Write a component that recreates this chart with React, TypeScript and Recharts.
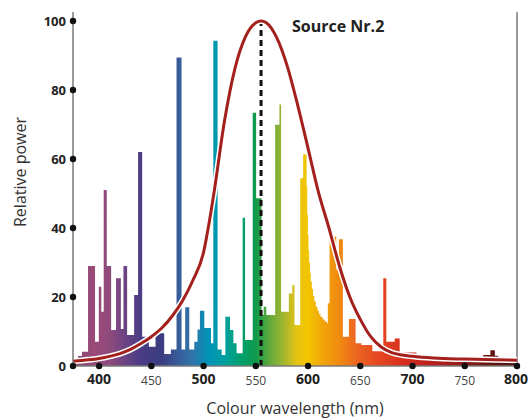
import React from "react"
import {
  ComposedChart, Area, Line, Scatter, XAxis, YAxis, ReferenceLine,
} from "recharts"

// spectrum steps: start wavelength (nm) and relative power of each step
const specStart = [
  375, 379.8, 383.6, 389.4, 396.1, 399.7, 402.1, 404.4, 407.3, 411.5,
  416.2, 420.8, 423.3, 426.8, 433.5, 437.3, 441.2, 447.6, 454, 462.3,
  468.7, 474.1, 478.9, 482.4, 486.3, 491.1, 494.2, 496.5, 500.7, 507.1,
  509.3, 513.4, 517.3, 520.8, 525.3, 528.5, 531.6, 537.4, 539.7, 547,
  550.3, 555.5, 557.5, 560, 568.5, 572.6, 574.2, 581.6, 584.9, 587,
  592.5, 595.3, 598.6, 599.2, 599.8, 600.4, 601, 601.8, 602.6, 603.6,
  604.8, 606, 607.5, 609, 610.5, 612, 614, 616, 618, 618.9,
  620.6, 627, 629.5, 633.3, 639.1, 645.5, 651, 661.5, 672, 674.9,
  682.9, 687.7, 703.7, 722.9, 740.5, 754.2, 762.8, 767.6, 774.5, 778.8,
  782, 800,
]
const specPower = [
  1.7, 2.9, 4.1, 29, 7, 23, 15.7, 51, 29, 10.4,
  25.4, 10.7, 29, 9, 20.6, 62, 8.5, 5.6, 9.5, 3.5,
  4.8, 89.4, 4.8, 17, 4.8, 7, 10.6, 16, 11, 6.6,
  94.3, 4.8, 3.2, 14.3, 10.4, 6.6, 3.7, 43, 7.5, 73.4,
  48.6, 14.8, 17.2, 14.8, 69.9, 75.8, 15.7, 21, 23.5, 11.9,
  54.4, 61.4, 52, 44, 38, 33.5, 30, 27, 24.5, 22.3,
  20.3, 18.7, 17.2, 16, 15, 14.2, 13.5, 12.9, 12.4, 18.2,
  37.5, 28, 36.7, 8.5, 13.6, 6.6, 6.1, 4.3, 25.4, 7,
  8, 3.9, 2.5, 2.4, 1.9, 2.4, 1.9, 3.2, 4.6, 3,
  2.2, 2.2,
]

// eye sensitivity curve
const curveNm = [
  375, 390, 400, 410, 420, 430, 440, 450, 460, 470, 480, 490, 500, 505,
  510, 520, 530, 540, 550, 555, 560, 570, 580, 590, 600, 610, 620, 630,
  640, 650, 660, 670, 680, 690, 700, 720, 750, 780, 800,
]
const curvePower = [
  1.4, 1.8, 2.2, 2.8, 3.6, 4.8, 6.5, 8.5, 11, 14.5, 19, 25, 33, 41,
  50.3, 71, 86.2, 95.4, 99.5, 100, 99.5, 95.2, 87, 75.7, 63.1, 50.3, 40, 29,
  20, 13.5, 8.5, 5.5, 3.9, 3.2, 2.8, 2.3, 2.0, 1.8, 1.7,
]

const xTicks = [400, 450, 500, 550, 600, 650, 700, 750, 800]
const yTicks = [0, 20, 40, 60, 80, 100]

const gradStops: [number, string][] = [
  [375, "#85496f"], [395, "#9b4a79"], [410, "#8e4a7d"], [425, "#6b4383"],
  [440, "#4b3c85"], [460, "#3a3d80"], [475, "#395a98"], [490, "#2e76a9"],
  [505, "#0093b8"], [520, "#00a0a0"], [535, "#00a070"], [550, "#0f9a4a"],
  [565, "#6aab3a"], [575, "#9ab533"], [590, "#e8c410"], [600, "#f2c500"],
  [615, "#f2a20a"], [630, "#f08a10"], [645, "#ec6820"], [665, "#e64a22"],
  [690, "#d8301e"], [720, "#b82020"], [750, "#8c1a14"], [780, "#5c1410"],
  [800, "#4a1210"],
]

const specData = specStart.map((nm, i) => ({ nm, p: specPower[i] }))
const curveData = curveNm.map((nm, i) => ({ nm, p: curvePower[i] }))
const dotData = [
  ...xTicks.map((nm) => ({ nm, p: 0 })),
  ...yTicks.map((p) => ({ nm: 375, p })),
]

const font = "'Open Sans', 'Noto Sans', sans-serif"

const XTick = (props: any) => {
  const { x, y, payload } = props
  const major = payload.value % 100 === 0
  return (
    <text x={x} y={y} dy={major ? 18 : 19} textAnchor="middle" fontFamily={font}
      fontSize={major ? 14 : 12} fontWeight={major ? 700 : 400} fill={major ? "#222" : "#444"}>
      {payload.value}
    </text>
  )
}

const YTick = (props: any) => {
  const { x, y, payload } = props
  return (
    <text x={x - 7} y={y} dy={5} textAnchor="end" fontFamily={font}
      fontSize={13} fontWeight={700} fill="#222">
      {payload.value}
    </text>
  )
}

const Dot = (props: any) => <circle cx={props.cx} cy={props.cy} r={3.2} fill="#111" />

export default function App() {
  return (
    <div style={{ position: "absolute", left: 0, top: 0, width: 528, height: 420, background: "#fff" }}>
      <ComposedChart width={528} height={420} margin={{ top: 12, right: 11, bottom: 0, left: 0 }}>
        <defs>
          <linearGradient id="spec" x1="0" y1="0" x2="1" y2="0">
            {gradStops.map(([nm, c]) => (
              <stop key={nm} offset={(nm - 375) / 425} stopColor={c} />
            ))}
          </linearGradient>
        </defs>
        <XAxis type="number" dataKey="nm" domain={[375, 800]} ticks={xTicks}
          height={54} tickLine={false} tickSize={0} tickMargin={0}
          axisLine={{ stroke: "#7a7a7a", strokeWidth: 1.5 }} tick={<XTick />} />
        <YAxis type="number" dataKey="p" domain={[0, 102.6]} ticks={yTicks}
          width={73} tickLine={false} tickSize={0} tickMargin={0}
          axisLine={{ stroke: "#7a7a7a", strokeWidth: 1.5 }} tick={<YTick />} />
        <Area data={specData} dataKey="p" type="stepAfter" fill="url(#spec)" fillOpacity={1}
          stroke="none" isAnimationActive={false} />
        <ReferenceLine x={800} stroke="#7a7a7a" strokeWidth={1.5} />
        <ReferenceLine segment={[{ x: 555, y: 0 }, { x: 555, y: 100 }]} stroke="#111"
          strokeWidth={3} strokeDasharray="6 4" />
        <Line data={curveData} dataKey="p" type="monotone" stroke="#fff" strokeWidth={6}
          dot={false} activeDot={false} isAnimationActive={false} />
        <Line data={curveData} dataKey="p" type="monotone" stroke="#a3201c" strokeWidth={3}
          dot={false} activeDot={false} isAnimationActive={false} />
        <Scatter data={dotData} dataKey="p" shape={<Dot />} isAnimationActive={false} />
      </ComposedChart>
      <div style={{ position: "absolute", left: 292, top: 15, fontFamily: font, fontWeight: 700,
        fontSize: 16, color: "#222", whiteSpace: "nowrap" }}>Source Nr.2</div>
      <div style={{ position: "absolute", left: 0, width: 590, top: 397, textAlign: "center",
        fontFamily: font, fontSize: 16, color: "#333", whiteSpace: "nowrap" }}>Colour wavelength (nm)</div>
      <div style={{ position: "absolute", left: 20, top: 172, width: 0, height: 0 }}>
        <div style={{ position: "absolute", transform: "translate(-50%, -50%) rotate(-90deg)",
          fontFamily: font, fontSize: 16, color: "#333", whiteSpace: "nowrap" }}>Relative power</div>
      </div>
    </div>
  )
}
